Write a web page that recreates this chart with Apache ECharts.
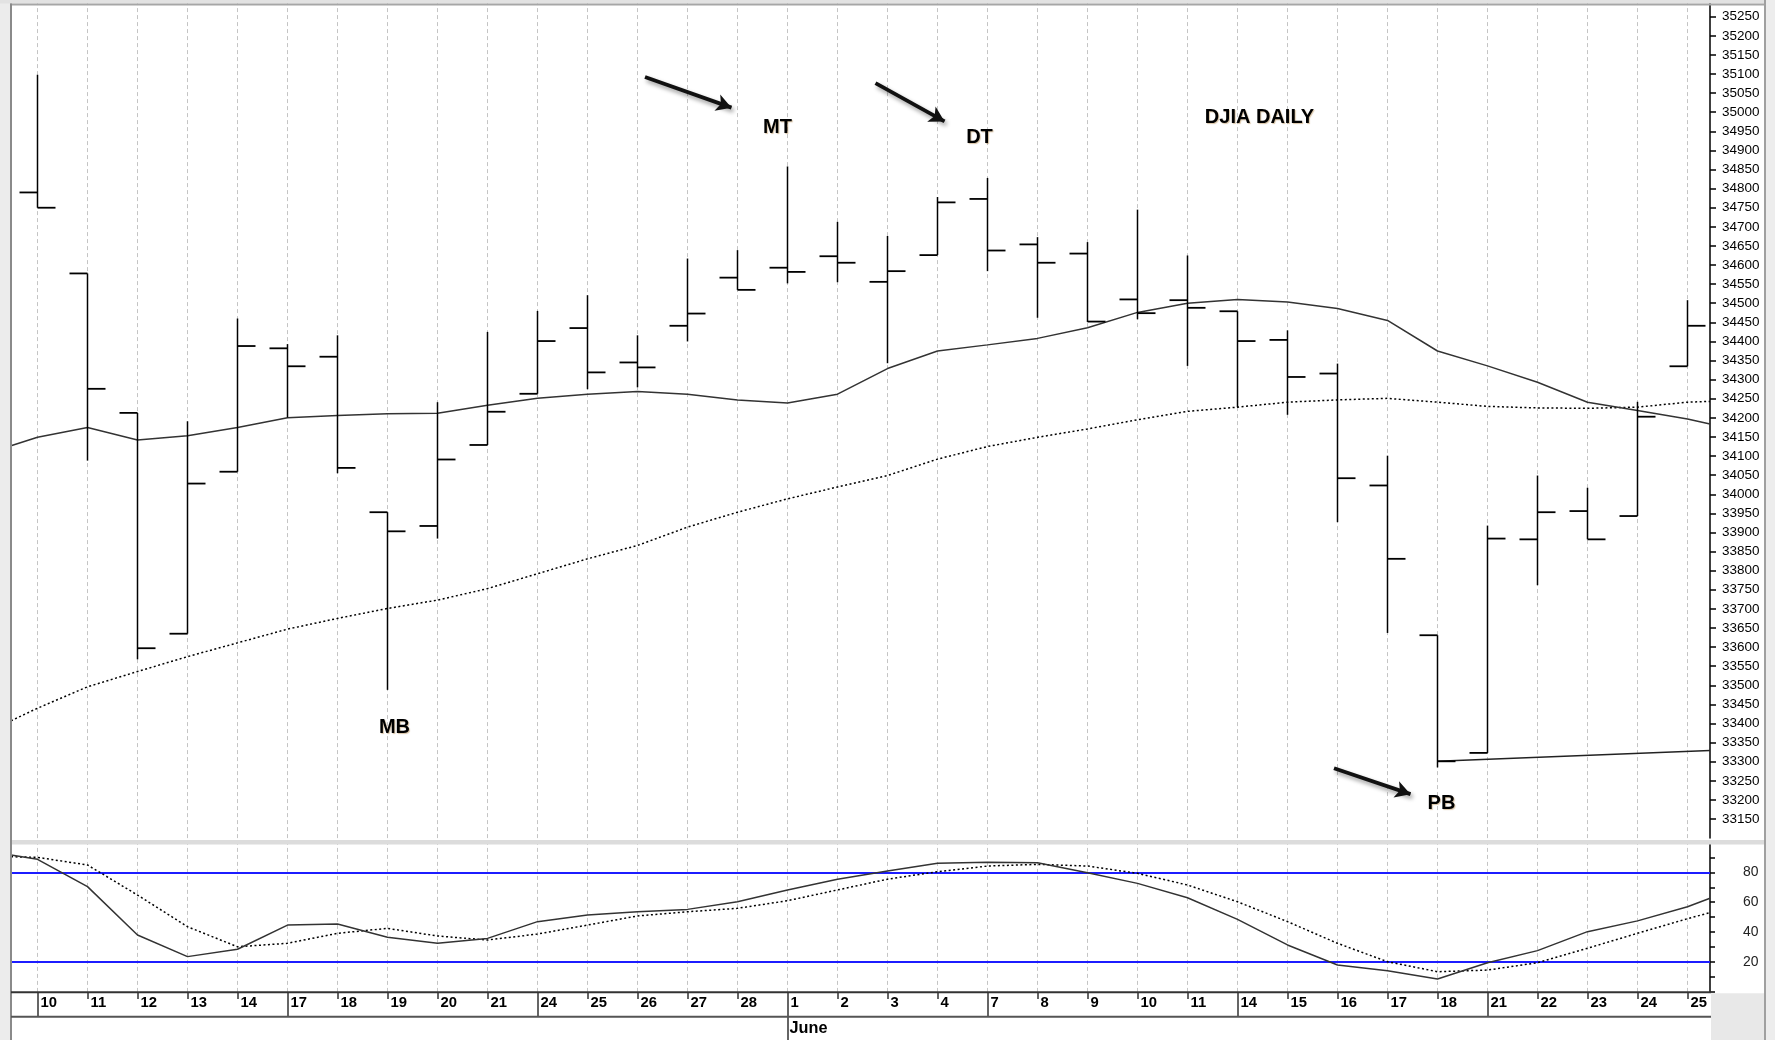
<!DOCTYPE html>
<html>
<head>
<meta charset="utf-8">
<script src="https://cdn.jsdelivr.net/npm/echarts@6/dist/echarts.min.js"></script>
<style>
  html, body { margin: 0; padding: 0; background: #fff; }
  #chart { width: 1775px; height: 1040px; }
</style>
</head>
<body>
<div id="chart"></div>
<script>
// trading days, May 10 .. June 25
const days = ['10', '11', '12', '13', '14', '17', '18', '19', '20', '21', '24', '25', '26', '27', '28',
  '1', '2', '3', '4', '7', '8', '9', '10', '11', '14', '15', '16', '17', '18', '21', '22', '23', '24', '25'];
const monthName = 'June';

// DJIA daily bars
const open = [34790, 34578, 34213, 33635, 34059, 34382, 34360, 33953, 33917, 34129, 34263, 34435, 34345, 34441, 34567,
  34593, 34623, 34556, 34626, 34773, 34654, 34630, 34510, 34508, 34479, 34404, 34316, 34023, 33631, 33323, 33882, 33956, 33943, 34335];
const high = [35098, 34578, 34213, 34191, 34460, 34393, 34416, 33953, 34241, 34425, 34480, 34521, 34416, 34617, 34639,
  34858, 34713, 34676, 34778, 34828, 34673, 34660, 34745, 34625, 34479, 34429, 34342, 34101, 33631, 33918, 34049, 34017, 34242, 34508];
const low = [34750, 34088, 33568, 33635, 34059, 34201, 34055, 33488, 33884, 34129, 34263, 34275, 34280, 34400, 34535,
  34552, 34555, 34343, 34626, 34584, 34462, 34451, 34458, 34336, 34228, 34208, 33927, 33637, 33285, 33323, 33762, 33882, 33943, 34335];
const close = [34750, 34276, 33597, 34028, 34388, 34335, 34069, 33903, 34091, 34216, 34401, 34319, 34332, 34473, 34535,
  34582, 34606, 34584, 34764, 34638, 34606, 34452, 34474, 34488, 34401, 34307, 34042, 33831, 33301, 33884, 33953, 33882, 34203, 34441];

// moving averages (values at the left / right plot edges kept apart)
const maFast = [34149, 34175, 34142, 34153, 34175, 34200, 34206, 34211, 34212, 34233, 34251, 34262, 34269, 34262, 34247,
  34239, 34262, 34329, 34375, 34391, 34408, 34436, 34476, 34500, 34510, 34503, 34486, 34455, 34375, 34336, 34293, 34241, 34219, 34197];
const maFastEdges = [34127, 34184];
const maSlow = [33440, 33496, 33536, 33575, 33611, 33647, 33675, 33701, 33723, 33753, 33792, 33831, 33866, 33914, 33953,
  33988, 34019, 34049, 34092, 34125, 34149, 34171, 34195, 34217, 34228, 34241, 34247, 34251, 34241, 34230, 34226, 34225, 34228, 34241];
const maSlowEdges = [33407, 34243];

// support line from the June 18 low to the right edge
const supportFrom = 28;
const supportLine = [33301, 33329];

// stochastics
const stochK = [88.7, 70.4, 38.1, 23.6, 28.5, 44.7, 45.4, 36.5, 32.5, 35.8, 47, 51.4, 53.6, 55.2, 60.3,
  68.2, 75.3, 80.8, 86, 86.7, 86.4, 79.7, 72.6, 63, 48.5, 31.4, 18, 14.2, 8.6, 19.5, 27.6, 40.3, 47.5, 57];
const stochKEdges = [91.6, 62.6];
const stochD = [90, 84.9, 64.8, 43.6, 30.2, 32.5, 39.2, 42.5, 37.4, 34.7, 38.7, 44.7, 50.8, 53.6, 55.9,
  61, 68.2, 75.4, 80.4, 84.2, 85.3, 84.2, 79.3, 71.5, 60.3, 47, 32.5, 20.2, 13.5, 14.6, 19.5, 29.2, 39.2, 49];
const stochDEdges = [90.4, 53];
const stochLevels = [80, 20];

// annotations: [text, day index, price]
const notes = [['MT', 14.8, 34959], ['DT', 18.84, 34934], ['DJIA DAILY', 24.44, 34985], ['MB', 7.14, 33389], ['PB', 28.08, 33190]];
const arrows = [[12.15, 35092, 13.88, 35012], [16.76, 35076, 18.14, 34976], [25.93, 33283, 27.46, 33215]];

const xMin = -0.53, xMax = 33.45;

// a narrow face if one is installed, else Liberation Sans; sizes fitted to the label widths
const measureCtx = document.createElement('canvas').getContext('2d');
function textWidth(text, font) {
  measureCtx.font = font;
  return measureCtx.measureText(text).width;
}
function pickFont(list) {
  const base = textWidth('35250 June', '40px monospace');
  for (const f of list) {
    if (Math.abs(textWidth('35250 June', '40px "' + f + '", monospace') - base) > 0.5) return '"' + f + '"';
  }
  return '"Liberation Sans", Arial, sans-serif';
}
const axisFont = pickFont(['Liberation Sans Narrow', 'Arial Narrow']);
function fitSize(text, width, weight, maxSize) {
  const w = textWidth(text, weight + ' 100px ' + axisFont);
  return Math.min(maxSize, 100 * width / w);
}
const priceSize = fitSize('35250', 37.5, 'normal', 16);
const daySize = fitSize('10', 16.5, 'bold', 17);
const monthSize = fitSize('June', 38, 'bold', 19);
const stochSize = fitSize('80', 15.5, 'normal', 17);

const weekStart = days.map((d, i) => i === 0 || +d !== +days[i - 1] + 1);
const monthStart = days.findIndex((d, i) => i > 0 && +d < +days[i - 1]);

function withEdges(values, edges) {
  return [[xMin, edges[0]]].concat(values.map((v, i) => [i, v]), [[xMax, edges[1]]]);
}

function renderBar(params, api) {
  const x = api.value(0);
  const o = api.coord([x, api.value(1)]);
  const h = api.coord([x, api.value(2)]);
  const l = api.coord([x, api.value(3)]);
  const c = api.coord([x, api.value(4)]);
  const tick = api.size([1, 0])[0] * 0.36;
  return {
    type: 'group',
    children: [
      { type: 'line', shape: { x1: h[0], y1: h[1], x2: l[0], y2: l[1] }, style: { stroke: '#000', lineWidth: 1.5 } },
      { type: 'line', shape: { x1: o[0] - tick, y1: o[1], x2: o[0], y2: o[1] }, style: { stroke: '#000', lineWidth: 1.8 } },
      { type: 'line', shape: { x1: c[0], y1: c[1], x2: c[0] + tick, y2: c[1] }, style: { stroke: '#000', lineWidth: 1.8 } }
    ]
  };
}

const gridLines = {
  silent: true,
  z: 0,
  symbol: ['none', 'none'],
  label: { show: false },
  lineStyle: { color: '#c4c4c4', width: 1, type: [4, 3] },
  data: days.map((d, i) => ({ xAxis: i }))
};

const chart = echarts.init(document.getElementById('chart'), null, { renderer: 'canvas' });

chart.setOption({
  animation: false,
  backgroundColor: '#fff',
  grid: [
    { left: 11, right: 65, top: -2.4, height: 840.5, outerBoundsMode: 'none' },
    { left: 11, right: 65, top: 842.4, height: 149.5, outerBoundsMode: 'none' },
    { left: 37.5, right: 87.5, top: 842.4, height: 149.5, outerBoundsMode: 'none' }
  ],
  xAxis: [
    { gridIndex: 0, type: 'value', min: xMin, max: xMax, show: false },
    { gridIndex: 1, type: 'value', min: xMin, max: xMax, show: false },
    {
      gridIndex: 2, type: 'category', data: days, boundaryGap: false, position: 'bottom', offset: 0,
      axisLine: { show: false },
      axisTick: { interval: 0, length: 7, lineStyle: { color: '#333', width: 1.5 } },
      axisLabel: {
        interval: 0, align: 'left', margin: 4, padding: [0, 0, 0, 3],
        fontFamily: axisFont, fontSize: daySize, fontWeight: 'bold', color: '#000'
      },
      splitLine: { show: false }
    },
    {
      gridIndex: 2, type: 'category', data: days, boundaryGap: false, position: 'bottom', offset: 0,
      axisLine: { show: false },
      axisTick: { interval: (i) => weekStart[i], length: 24, lineStyle: { color: '#333', width: 1.5 } },
      axisLabel: { show: false },
      splitLine: { show: false }
    },
    {
      gridIndex: 2, type: 'category', data: days, boundaryGap: false, position: 'bottom', offset: 0,
      axisLine: { show: false },
      axisTick: { interval: (i) => i === monthStart, length: 48, lineStyle: { color: '#333', width: 1.5 } },
      axisLabel: {
        interval: 0, align: 'left', margin: 29, padding: [0, 0, 0, 2],
        formatter: (v, i) => (i === monthStart ? monthName : ''),
        fontFamily: axisFont, fontSize: monthSize, fontWeight: 'bold', color: '#000'
      },
      splitLine: { show: false }
    }
  ],
  yAxis: [
    {
      gridIndex: 0, type: 'value', position: 'right', min: 33100, max: 35300, interval: 50,
      axisLine: { show: true, onZero: false, lineStyle: { color: '#000', width: 1.5 } },
      axisTick: { show: true, length: 6, lineStyle: { color: '#000', width: 1.5 } },
      axisLabel: {
        margin: 12, showMaxLabel: false, showMinLabel: false, formatter: (v) => String(v),
        fontFamily: axisFont, fontSize: priceSize, color: '#000'
      },
      splitLine: { show: false }
    },
    {
      gridIndex: 1, type: 'value', position: 'right', min: 0, max: 100, interval: 20,
      axisLine: { show: true, onZero: false, lineStyle: { color: '#000', width: 1.5 } },
      axisTick: { show: true, length: 5, lineStyle: { color: '#000', width: 1.5 } },
      minorTick: { show: true, splitNumber: 2, length: 5, lineStyle: { color: '#000', width: 1.5 } },
      axisLabel: { margin: 33, showMaxLabel: false, showMinLabel: false, fontFamily: axisFont, fontSize: stochSize, color: '#222' },
      splitLine: { show: false }
    },
    { gridIndex: 2, type: 'value', show: false, axisLine: { onZero: false } }
  ],
  series: [
    {
      name: 'slow ma', type: 'line', xAxisIndex: 0, yAxisIndex: 0, z: 1,
      data: withEdges(maSlow, maSlowEdges), showSymbol: false,
      lineStyle: { color: '#000', width: 1.5, type: [2, 2.5] },
      markLine: gridLines
    },
    {
      name: 'fast ma', type: 'line', xAxisIndex: 0, yAxisIndex: 0, z: 3,
      data: withEdges(maFast, maFastEdges), showSymbol: false,
      lineStyle: { color: '#333', width: 1.5 }
    },
    {
      name: 'support', type: 'line', xAxisIndex: 0, yAxisIndex: 0, z: 3,
      data: [[supportFrom, supportLine[0]], [xMax, supportLine[1]]], showSymbol: false,
      lineStyle: { color: '#222', width: 1.5 }
    },
    {
      name: 'DJIA', type: 'custom', xAxisIndex: 0, yAxisIndex: 0, z: 4,
      renderItem: renderBar,
      encode: { x: 0, y: [1, 2, 3, 4] },
      data: days.map((d, i) => [i, open[i], high[i], low[i], close[i]]),
      markPoint: {
        symbol: 'circle', symbolSize: 1, itemStyle: { color: 'rgba(0,0,0,0)' },
        label: {
          show: true, position: 'inside', formatter: '{b}',
          fontFamily: '"Liberation Sans", Arial, sans-serif', fontWeight: 'bold', fontSize: 20, color: '#000',
          textShadowColor: 'rgba(150,90,0,0.35)', textShadowBlur: 1, textShadowOffsetX: 1, textShadowOffsetY: 1
        },
        data: notes.map((n) => ({ name: n[0], coord: [n[1], n[2]] }))
      },
      markLine: {
        silent: true,
        z: 10,
        symbol: ['none', 'arrow'], symbolSize: [13, 15],
        label: { show: false },
        lineStyle: {
          color: '#111', width: 3.8, type: 'solid',
          shadowColor: 'rgba(0,0,0,0.4)', shadowBlur: 4, shadowOffsetX: 2, shadowOffsetY: 3
        },
        data: arrows.map((a) => [{ coord: [a[0], a[1]] }, { coord: [a[2], a[3]] }])
      }
    },
    {
      name: '%D', type: 'line', xAxisIndex: 1, yAxisIndex: 1, z: 2,
      data: withEdges(stochD, stochDEdges), showSymbol: false,
      lineStyle: { color: '#000', width: 1.5, type: [2, 2.5] },
      markLine: gridLines
    },
    {
      name: '%K', type: 'line', xAxisIndex: 1, yAxisIndex: 1, z: 3,
      data: withEdges(stochK, stochKEdges), showSymbol: false,
      lineStyle: { color: '#333', width: 1.5 },
      markLine: {
        silent: true, z: 1, symbol: ['none', 'none'], label: { show: false },
        lineStyle: { color: '#1c1cff', width: 2, type: 'solid' },
        data: stochLevels.map((v) => ({ yAxis: v }))
      }
    }
  ],
  graphic: [
    { type: 'rect', z: 100, shape: { x: 0, y: 0, width: 10, height: 1040 }, style: { fill: '#ececec' } },
    { type: 'rect', z: 100, shape: { x: 0, y: 0, width: 1775, height: 3.5 }, style: { fill: '#e2e2e2' } },
    { type: 'line', z: 101, shape: { x1: 10, y1: 4.5, x2: 1766, y2: 4.5 }, style: { stroke: '#a6a6a6', lineWidth: 2 } },
    { type: 'line', z: 101, shape: { x1: 11, y1: 3.5, x2: 11, y2: 1040 }, style: { stroke: '#8a8a8a', lineWidth: 2 } },
    { type: 'rect', z: 100, shape: { x: 12, y: 840, width: 1753, height: 4.5 }, style: { fill: '#dcdcdc' } },
    { type: 'line', z: 101, shape: { x1: 11, y1: 992.3, x2: 1711, y2: 992.3 }, style: { stroke: '#333', lineWidth: 2 } },
    { type: 'line', z: 101, shape: { x1: 11, y1: 1016.7, x2: 1711, y2: 1016.7 }, style: { stroke: '#555', lineWidth: 2 } },
    { type: 'rect', z: 100, shape: { x: 1711, y: 993.3, width: 54, height: 47 }, style: { fill: '#e8e8e8' } },
    { type: 'rect', z: 100, shape: { x: 1765, y: 0, width: 10, height: 1040 }, style: { fill: '#ededed' } },
    { type: 'line', z: 101, shape: { x1: 1765, y1: 0, x2: 1765, y2: 1040 }, style: { stroke: '#a0a0a0', lineWidth: 2 } }
  ]
});
</script>
</body>
</html>
